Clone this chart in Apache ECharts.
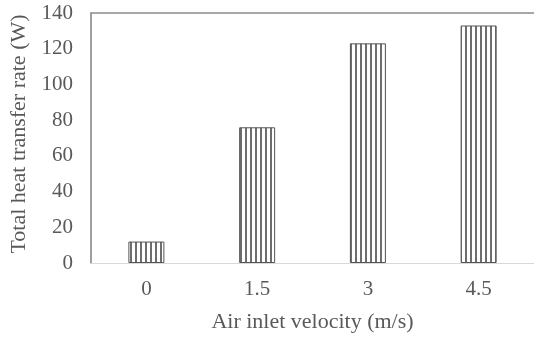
<!DOCTYPE html>
<html>
<head>
<meta charset="utf-8">
<script src="https://cdn.jsdelivr.net/npm/echarts@6/dist/echarts.min.js"></script>
<style>
html, body { margin: 0; padding: 0; background: #fff; }
#chart { width: 534px; height: 338px; }
</style>
</head>
<body>
<div id="chart"></div>
<script>
var velocities = ['0', '1.5', '3', '4.5'];
var heatRate = [12, 76, 123, 133];
var yTicks = { min: 0, max: 140, step: 20 };

// vertical stripe fill for the bars
function stripes() {
	var c = document.createElement('canvas');
	c.width = 5;
	c.height = 6;
	var ctx = c.getContext('2d');
	ctx.fillStyle = '#ffffff';
	ctx.fillRect(0, 0, 5, 6);
	ctx.fillStyle = '#6e6e6e';
	ctx.fillRect(0, 0, 2, 6);
	return c;
}

var font = 'Liberation Serif';
var myChart = echarts.init(document.getElementById('chart'));
var option = {
	backgroundColor: '#fff',
	animation: false,
	grid: {
		left: 91,
		right: -3,
		top: 13,
		bottom: 69
	},
	xAxis: [{
		type: 'category',
		data: velocities,
		name: 'Air inlet velocity (m/s)',
		nameLocation: 'middle',
		nameGap: 48,
		nameTextStyle: {
			fontFamily: font,
			fontSize: 22,
			color: '#595959'
		},
		axisLine: {
			lineStyle: { color: '#d9d9d9', width: 1 }
		},
		axisTick: { show: false },
		axisLabel: {
			fontFamily: font,
			fontSize: 21,
			color: '#595959',
			margin: 16
		}
	}, {
		// top border of the plot
		type: 'category',
		position: 'top',
		data: velocities,
		axisLine: {
			lineStyle: { color: '#8c8c8c', width: 1.5 }
		},
		axisTick: { show: false },
		axisLabel: { show: false }
	}],
	yAxis: {
		type: 'value',
		min: yTicks.min,
		max: yTicks.max,
		interval: yTicks.step,
		name: 'Total heat transfer rate (W)',
		nameLocation: 'middle',
		nameGap: 61,
		nameTextStyle: {
			fontFamily: font,
			fontSize: 22,
			color: '#595959',
			padding: [0, 0, 0, 8]
		},
		axisLine: {
			show: true,
			lineStyle: { color: '#808080', width: 1.5 }
		},
		axisTick: { show: false },
		axisLabel: {
			fontFamily: font,
			fontSize: 21,
			color: '#595959',
			margin: 18
		},
		splitLine: { //隐藏分割线
			show: false
		}
	},
	series: [{
		type: 'bar',
		data: heatRate,
		barWidth: 36,
		itemStyle: {
			color: { image: stripes(), repeat: 'repeat' },
			borderColor: '#555555',
			borderWidth: 1
		}
	}]
};
myChart.setOption(option);
</script>
</body>
</html>
